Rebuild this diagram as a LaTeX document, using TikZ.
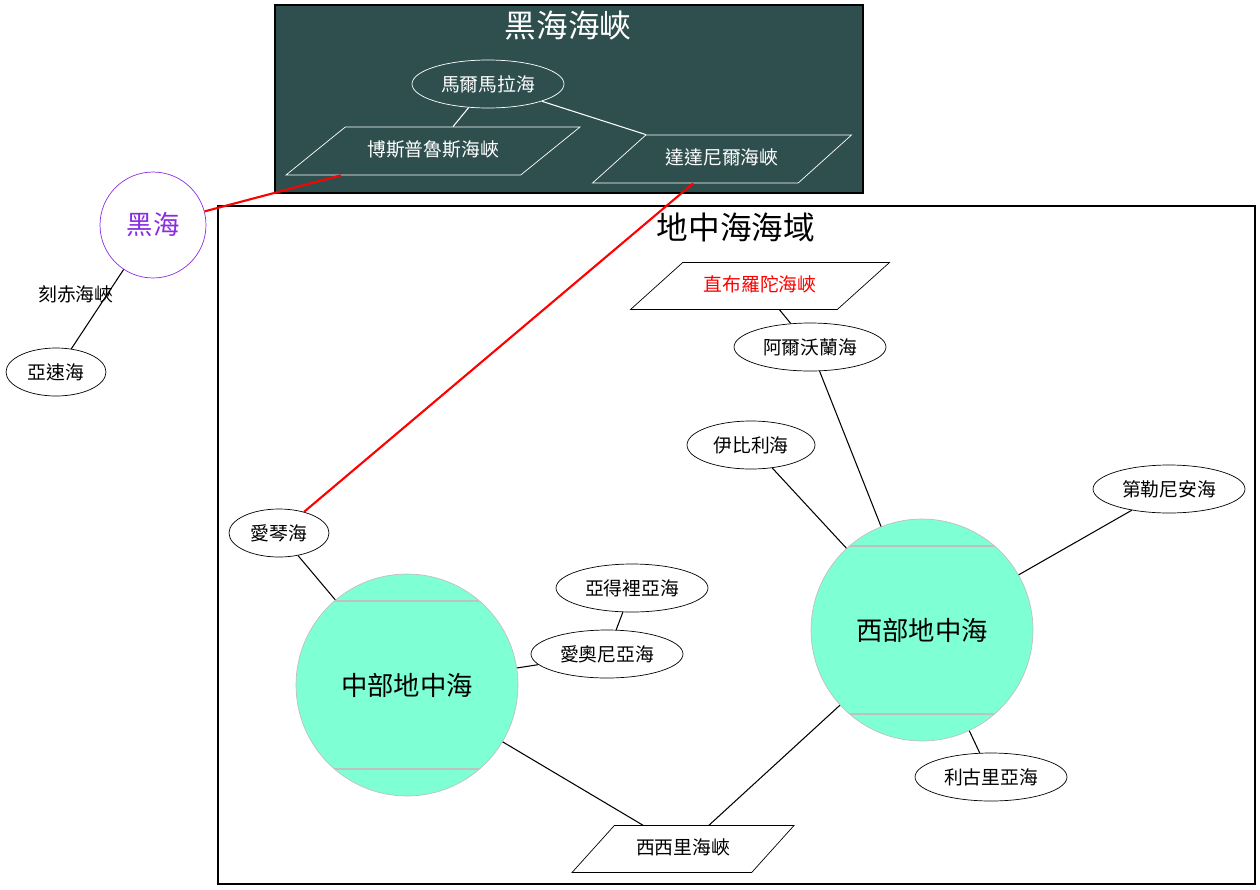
\documentclass[tikz,border=0pt]{standalone}
\usepackage{fontspec}
\setmainfont{Noto Sans CJK TC}
\usetikzlibrary{shapes.geometric,calc}

\begin{document}
\begin{tikzpicture}[x=0.02cm,y=-0.02cm,
	sea/.style={ellipse, draw, minimum height=0.96cm, inner sep=0pt, font=\fontsize{10.7}{12}\selectfont},
	strait/.style={trapezium, trapezium stretches body, draw, text height=0.3cm, text depth=0.1cm, inner xsep=0pt, inner ysep=0.28cm, font=\fontsize{10.7}{12}\selectfont},
	basin/.style={circle, draw=basinline, fill=basinfill, minimum size=4.44cm, inner sep=0pt, font=\fontsize{15}{18}\selectfont,
		path picture={
			\draw[basinline, line width=0.6pt] ($(path picture bounding box.north west)!0.1215!(path picture bounding box.south west)$) -- ($(path picture bounding box.north east)!0.1215!(path picture bounding box.south east)$);
			\draw[basinline, line width=0.6pt] ($(path picture bounding box.north west)!0.8785!(path picture bounding box.south west)$) -- ($(path picture bounding box.north east)!0.8785!(path picture bounding box.south east)$);
		}},
	link/.style={line width=0.6pt},
	redlink/.style={draw=red, line width=1.2pt},
	title/.style={font=\fontsize{18}{22}\selectfont}]
	
	% Farben
	\definecolor{slate}{RGB}{47, 79, 79}         % Schwarzes Meer Cluster
	\definecolor{basinfill}{RGB}{127, 255, 212}  % Becken
	\definecolor{basinline}{RGB}{192, 192, 192}
	\definecolor{violet}{RGB}{138, 43, 226}      % Schwarzes Meer
	
	\useasboundingbox (0,0) rectangle (1260,889);
	
	% Cluster
	\fill[slate] (275,5) rectangle (863,193);
	\draw[link] (275,5) rectangle (863,193);
	\draw[link] (218,206) rectangle (1255,884);
	\node[title, text=white] (straitstitle) at (568,26) {黑海海峽};
	\node[title] (medtitle) at (736,227) {地中海海域};
	
	% Meerengen oben
	\node[sea, draw=white, text=white, minimum width=3.04cm] (marmara) at (488,84) {馬爾馬拉海};
	\node[strait, draw=white, text=white, minimum width=5.88cm, trapezium left angle=39, trapezium right angle=141] (bosporus) at (433,151) {博斯普魯斯海峽};
	\node[strait, draw=white, text=white, minimum width=5.18cm, trapezium left angle=42, trapezium right angle=138] (dardanelles) at (722,159) {達達尼爾海峽};
	
	% links
	\node[circle, draw=violet, text=violet, minimum size=2.12cm, inner sep=0pt, font=\fontsize{15}{18}\selectfont] (blacksea) at (153,225) {黑海};
	\node[sea, minimum width=2cm] (azov) at (56,372) {亞速海};
	
	% Mittelmeer
	\node[strait, text=red, minimum width=5.18cm, inner ysep=0.27cm, trapezium left angle=42, trapezium right angle=138] (gibraltar) at (760,286) {直布羅陀海峽};
	\node[sea, minimum width=3.04cm] (alboran) at (810,347) {阿爾沃蘭海};
	\node[sea, minimum width=2.56cm] (balearic) at (751,445) {伊比利海};
	\node[sea, minimum width=3.04cm] (tyrrhenian) at (1169,489) {第勒尼安海};
	\node[basin] (westmed) at (922,630) {西部地中海};
	\node[sea, minimum width=3.04cm] (ligurian) at (991,777) {利古里亞海};
	\node[sea, minimum width=2cm] (aegean) at (279,533) {愛琴海};
	\node[basin] (centmed) at (407,685) {中部地中海};
	\node[sea, minimum width=3.04cm] (adriatic) at (632,588) {亞得裡亞海};
	\node[sea, minimum width=3.04cm] (ionian) at (607,654) {愛奧尼亞海};
	\node[strait, minimum width=4.44cm, inner ysep=0.27cm, trapezium left angle=48, trapezium right angle=132] (sicily) at (683,849) {西西里海峽};
	
	% Verbindungen
	\draw[link, white] (marmara) -- (bosporus);
	\draw[link, white] (marmara) -- (dardanelles);
	\draw[link] (blacksea) -- node[midway, xshift=-0.43cm, yshift=0.29cm, font=\fontsize{10.7}{12}\selectfont] (kerch) {刻赤海峽} (azov);
	\draw[redlink] (blacksea) -- (bosporus);
	\draw[redlink] (dardanelles) -- (aegean);
	\draw[link] (gibraltar) -- (alboran);
	\draw[link] (alboran) -- (westmed);
	\draw[link] (balearic) -- (westmed);
	\draw[link] (westmed) -- (tyrrhenian);
	\draw[link] (westmed) -- (ligurian);
	\draw[link] (westmed) -- (sicily);
	\draw[link] (centmed) -- (sicily);
	\draw[link] (aegean) -- (centmed);
	\draw[link] (centmed) -- (ionian);
	\draw[link] (adriatic) -- (ionian);
\end{tikzpicture}
\end{document}
